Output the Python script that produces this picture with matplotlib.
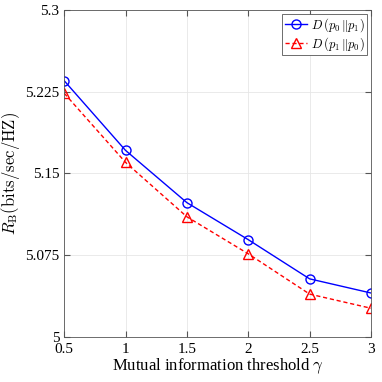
import matplotlib
matplotlib.use('Agg')
import matplotlib.pyplot as plt

# mutual information threshold
gamma = [0.5, 1.0, 1.5, 2.0, 2.5, 3.0]

# rate R_B (bits/sec/Hz)
d_p0_p1 = [5.235, 5.171, 5.123, 5.089, 5.053, 5.040]
d_p1_p0 = [5.2235, 5.160, 5.110, 5.076, 5.039, 5.026]

x_ticks = [0.5, 1, 1.5, 2, 2.5, 3]
x_labels = ['0.5', '1', '1.5', '2', '2.5', '3']
y_ticks = [5.0, 5.075, 5.15, 5.225, 5.3]
y_labels = ['5', '5.075', '5.15', '5.225', '5.3']

plt.rcParams['font.family'] = ['Liberation Serif', 'DejaVu Serif']
plt.rcParams['mathtext.fontset'] = 'cm'

fig = plt.figure(figsize=(3.82, 3.82), dpi=100)
ax = fig.add_axes([0.168, 0.119, 0.803, 0.855])

ax.plot(gamma, d_p0_p1, color='#0000ff', marker='o', markersize=6.5, markerfacecolor='none',
        markeredgewidth=1.0, linewidth=1.0, linestyle='-', label=r'$D\,(p_0\,\|p_1)$')
ax.plot(gamma, d_p1_p0, color='#ff0000', marker='^', markersize=6.5, markerfacecolor='none',
        markeredgewidth=1.0, linewidth=1.0, linestyle=(0, (3, 2)), label=r'$D\,(p_1\,\|p_0)$')

ax.set_xlim(0.5, 3)
ax.set_ylim(5.0, 5.3)
ax.set_xticks(x_ticks)
ax.set_xticklabels(x_labels)
ax.set_yticks(y_ticks)
ax.set_yticklabels(y_labels)
ax.tick_params(direction='in', top=True, right=True, labelsize=11, length=4, color='#555555')
ax.tick_params(axis='x', pad=5)
for s in ax.spines.values():
    s.set_color('#555555')
    s.set_linewidth(0.6)
ax.grid(True, color='#e6e6e6', linewidth=0.6)

ax.set_xlabel(r'Mutual information threshold $\gamma$', fontsize=12, labelpad=0)
ax.set_ylabel(r'$R_{\mathrm{B}}(\mathrm{bits/sec/HZ})$', fontsize=12, labelpad=2)

leg = ax.legend(loc='upper right', fontsize=9, fancybox=False, framealpha=1,
                edgecolor='#555555', handlelength=1.8, handletextpad=0.3,
                borderpad=0.2, labelspacing=0.1, borderaxespad=0.3)
leg.get_frame().set_linewidth(0.6)

fig.savefig('out.png', dpi=100)
